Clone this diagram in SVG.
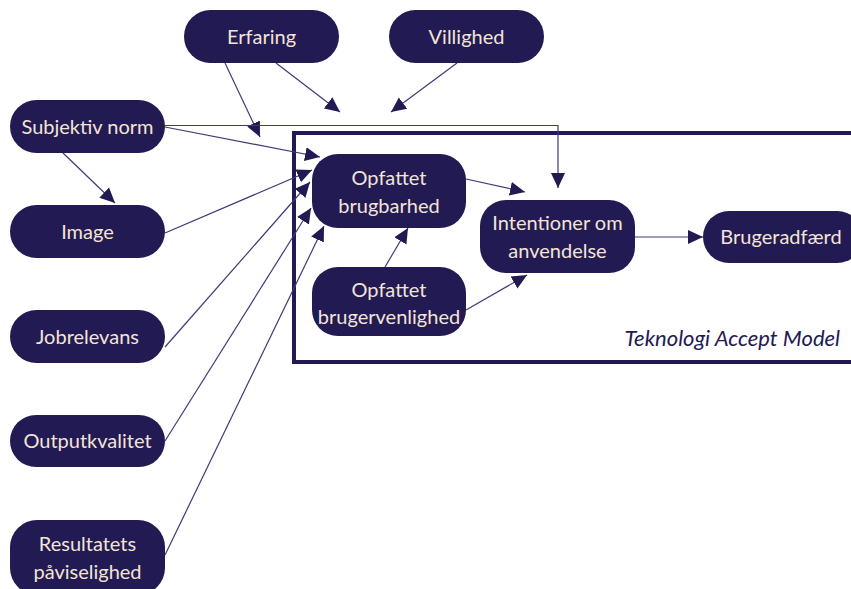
<svg xmlns="http://www.w3.org/2000/svg" width="851" height="589" viewBox="0 0 851 589">
<style>
.n{fill:#221a52;}
.t{fill:#f3e4d6;font-family:Lato,"Open Sans",sans-serif;font-size:20px;text-anchor:middle;}
.c{fill:none;stroke:#3f3a78;stroke-width:1.2;}
.box{fill:none;stroke:#221a52;stroke-width:4;}
.cap{fill:#221a52;font-family:Lato,"Open Sans",sans-serif;font-size:22px;font-style:italic;text-anchor:end;}
</style>
<defs>
<marker id="ah" markerUnits="userSpaceOnUse" markerWidth="16" markerHeight="16" viewBox="0 0 16 16" refX="15" refY="8" orient="auto">
<path d="M0,1 L15,8 L0,15 Z" fill="#221a52"/>
</marker>
</defs>
<rect width="851" height="589" fill="#ffffff"/>
<g id="tam-box">
<rect class="box" x="294" y="133" width="565" height="229"/>
<text class="cap" x="840" y="346">Teknologi Accept Model</text>
</g>
<g id="connectors">
<line class="c" x1="225" y1="63" x2="260" y2="137" marker-end="url(#ah)"/>
<line class="c" x1="276" y1="63" x2="340" y2="112" marker-end="url(#ah)"/>
<line class="c" x1="457" y1="63" x2="391" y2="112" marker-end="url(#ah)"/>
<polyline class="c" points="165,125.5 558,125.5 558,188" marker-end="url(#ah)"/>
<line class="c" x1="165" y1="127" x2="320" y2="157" marker-end="url(#ah)"/>
<line class="c" x1="63" y1="153" x2="115" y2="203" marker-end="url(#ah)"/>
<line class="c" x1="165" y1="233" x2="312" y2="170" marker-end="url(#ah)"/>
<line class="c" x1="165" y1="347" x2="310" y2="182" marker-end="url(#ah)"/>
<line class="c" x1="165" y1="441" x2="311" y2="208" marker-end="url(#ah)"/>
<line class="c" x1="165" y1="555" x2="324" y2="226" marker-end="url(#ah)"/>
<line class="c" x1="466" y1="179" x2="525" y2="192" marker-end="url(#ah)"/>
<line class="c" x1="385" y1="267" x2="408" y2="228" marker-end="url(#ah)"/>
<line class="c" x1="466" y1="310" x2="527" y2="275" marker-end="url(#ah)"/>
<line class="c" x1="635" y1="237" x2="703" y2="237" marker-end="url(#ah)"/>
</g>
<g id="erfaring"><rect class="n" x="184" y="10" width="155" height="53" rx="26.5"/><text class="t" x="261.5" y="44">Erfaring</text></g>
<g id="villighed"><rect class="n" x="389" y="10" width="155" height="53" rx="26.5"/><text class="t" x="466.5" y="44">Villighed</text></g>
<g id="subjektiv-norm"><rect class="n" x="10" y="100" width="155" height="53" rx="26.5"/><text class="t" x="87.5" y="134">Subjektiv norm</text></g>
<g id="image"><rect class="n" x="10" y="205" width="155" height="53" rx="26.5"/><text class="t" x="87.5" y="239">Image</text></g>
<g id="jobrelevans"><rect class="n" x="10" y="310" width="155" height="53" rx="26.5"/><text class="t" x="87.5" y="344">Jobrelevans</text></g>
<g id="outputkvalitet"><rect class="n" x="10" y="415" width="155" height="52" rx="26"/><text class="t" x="87.5" y="448">Outputkvalitet</text></g>
<g id="resultatets"><rect class="n" x="10" y="520" width="155" height="75" rx="27"/><text class="t" x="87.5" y="551">Resultatets</text><text class="t" x="87.5" y="579">påviselighed</text></g>
<g id="opfattet-brugbarhed"><rect class="n" x="312" y="154" width="154" height="74" rx="26"/><text class="t" x="389" y="185">Opfattet</text><text class="t" x="389" y="213">brugbarhed</text></g>
<g id="opfattet-brugervenlighed"><rect class="n" x="312" y="267" width="154" height="69" rx="26"/><text class="t" x="389" y="297">Opfattet</text><text class="t" x="389" y="324">brugervenlighed</text></g>
<g id="intentioner"><rect class="n" x="480" y="200" width="155" height="73" rx="26"/><text class="t" x="557.5" y="230">Intentioner om</text><text class="t" x="557.5" y="258">anvendelse</text></g>
<g id="brugeradfaerd"><rect class="n" x="703" y="211" width="160" height="52" rx="26"/><text class="t" x="781" y="244">Brugeradfærd</text></g>
</svg>
